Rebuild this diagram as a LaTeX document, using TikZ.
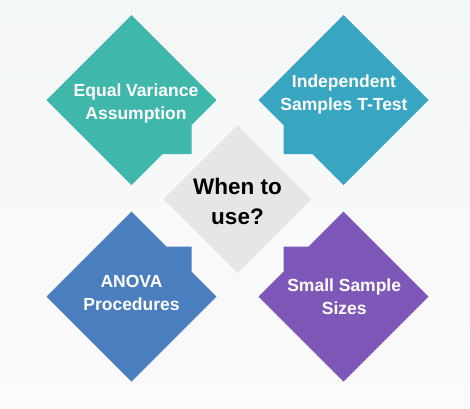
\documentclass[tikz,border=0pt]{standalone}
\usepackage{fontspec}
\setsansfont{Liberation Sans}
\definecolor{eqteal}{RGB}{63,183,170}
\definecolor{indteal}{RGB}{56,166,193}
\definecolor{anovablue}{RGB}{74,126,191}
\definecolor{smallpurple}{RGB}{125,88,185}
\definecolor{hubgray}{RGB}{230,230,230}
\definecolor{bgtop}{RGB}{244,247,247}
\definecolor{bgbot}{RGB}{252,250,250}

\begin{document}
\begin{tikzpicture}[x=1pt,y=-1pt]
	\tikzstyle{cardtext}=[text=white,font=\sffamily\bfseries\fontsize{17.5}{23}\selectfont,align=center,inner sep=0pt]
	\tikzstyle{hubtext}=[text=black,font=\sffamily\bfseries\fontsize{22.5}{30}\selectfont,align=center,inner sep=0pt]
	\shade[top color=bgtop,bottom color=bgbot] (0,0) rectangle (470,408);
	\useasboundingbox (0,0) rectangle (470,408);
	% diamonds with a small tab toward the middle
	\foreach \cx/\cy/\sx/\sy/\ny/\col in {131.5/100/1/1/54/eqteal, 343.5/100/-1/1/54/indteal, 131.5/296.7/1/-1/50/anovablue, 343.5/296.7/-1/-1/50/smallpurple}
	{
		\fill[\col] ({\cx-\sx*85},\cy) -- (\cx,{\cy-\sy*85}) -- ({\cx+\sx*85},\cy)
			-- ({\cx+\sx*60},{\cy+\sy*25}) -- ({\cx+\sx*60},{\cy+\sy*\ny})
			-- ({\cx+\sx*(85-\ny)},{\cy+\sy*\ny}) -- (\cx,{\cy+\sy*85}) -- cycle;
	}
	\fill[hubgray] (237.5,125) -- (311.5,199) -- (237.5,273) -- (163.5,199) -- cycle;
	\node[hubtext] (hub) at (237.5,201) {When to\\use?};
	\node[cardtext] (eqvar) at (136,103.7) {Equal Variance\\Assumption};
	\node[cardtext] (indep) at (344,94.3) {Independent\\Samples T-Test};
	\node[cardtext] (anova) at (131.5,293.3) {ANOVA\\Procedures};
	\node[cardtext] (small) at (344.2,297.2) {Small Sample\\Sizes};
\end{tikzpicture}
\end{document}
